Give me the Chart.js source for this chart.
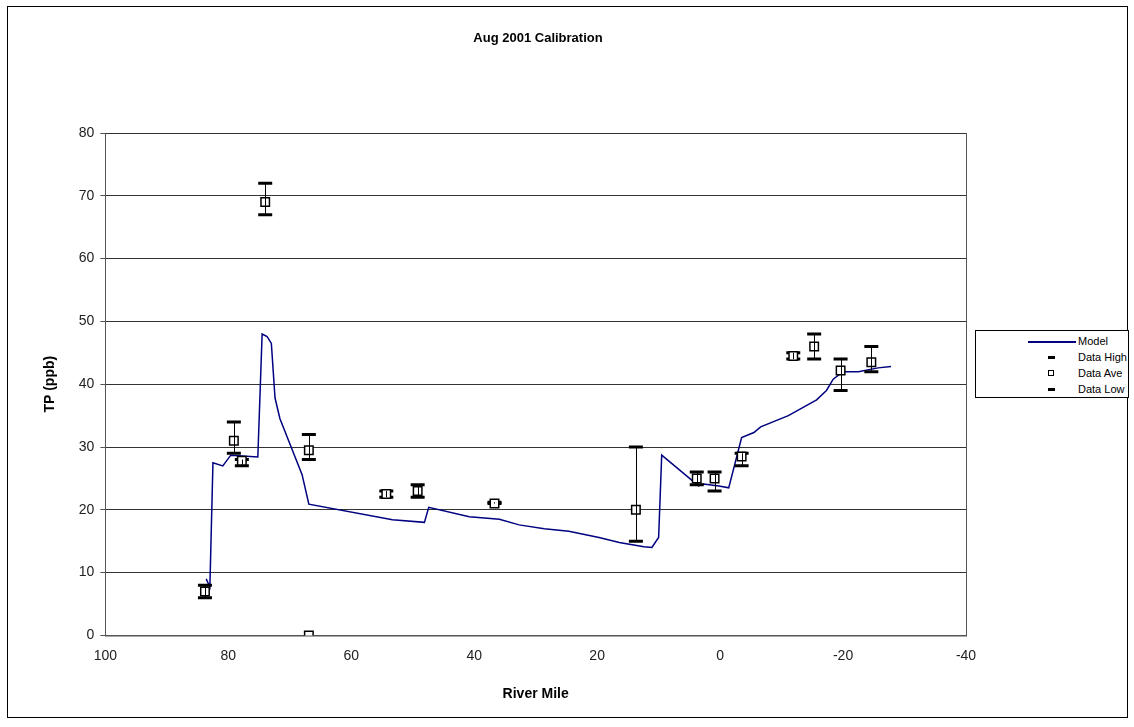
<!DOCTYPE html>
<html>
<head>
<meta charset="utf-8">
<script src="https://cdn.jsdelivr.net/npm/chart.js@4"></script>
<style>
  body { margin: 0; background: #fff; font-family: "Liberation Sans", Arial, sans-serif; }
  #wrap { position: absolute; left: 7px; top: 6px; width: 1121px; height: 712px; border: 1px solid #000; box-sizing: border-box; }
  #title { position: absolute; left: 338px; width: 400px; top: 30px; text-align: center; font-size: 13px; font-weight: bold; }
  #legend { position: absolute; left: 975px; top: 330px; width: 154px; height: 68px; border: 1px solid #000; background: #fff; box-sizing: border-box; font-size: 11px; }
  #legend div { position: absolute; left: 0; height: 16px; line-height: 16px; }
  #legend span.t { position: absolute; left: 102px; }
</style>
</head>
<body>
<div id="wrap"><canvas id="c" width="1119" height="710"></canvas></div>
<div id="title">Aug 2001 Calibration</div>
<div id="legend">
  <div style="top:2px;width:154px"><span style="position:absolute;left:52px;top:8px;width:48px;height:0;border-top:2px solid #000080"></span><span class="t">Model</span></div>
  <div style="top:18px;width:154px"><span style="position:absolute;left:72px;top:7px;width:7px;height:3px;background:#000"></span><span class="t">Data High</span></div>
  <div style="top:34px;width:154px"><span style="position:absolute;left:72px;top:5px;width:4px;height:4px;border:1.5px solid #000"></span><span class="t">Data Ave</span></div>
  <div style="top:50px;width:154px"><span style="position:absolute;left:72px;top:7px;width:7px;height:3px;background:#000"></span><span class="t">Data Low</span></div>
</div>
<script>
const modelMile = [83.6, 83.0, 82.5, 80.9, 79.6, 75.2, 74.5, 73.7, 73.0, 72.4, 71.6, 68.0, 66.9, 53.3, 48.1, 47.4, 40.8, 35.9, 32.7, 28.6, 24.6, 19.7, 16.4, 12.4, 11.1, 10.0, 9.5, 3.5, 2.7, 0.2, -1.4, -3.5, -5.5, -6.6, -11.1, -15.7, -17.3, -18.4, -20.0, -22.5, -25.7, -27.8];
const modelTP = [9, 7.7, 27.5, 27, 28.7, 28.4, 48, 47.6, 46.5, 37.8, 34.5, 25.6, 20.9, 18.4, 18, 20.4, 18.9, 18.5, 17.6, 17, 16.6, 15.6, 14.8, 14.1, 14, 15.6, 28.7, 23.8, 24.1, 23.8, 23.5, 31.5, 32.3, 33.2, 35, 37.5, 39, 40.8, 42, 42, 42.6, 42.8];

const dataMile = [83.8, 79.1, 77.8, 74.0, 66.9, 66.9, 54.3, 49.2, 36.7, 13.7, 3.8, 0.9, -3.5, -11.9, -15.3, -19.6, -24.6];
const dataAve  = [7, 31, 27.8, 69, 29.5, 0, 22.5, 23, 21, 20, 25, 25, 28.5, 44.5, 46, 42.2, 43.5];
const dataHigh = [8, 34, 28, 72, 32, null, 23, 24, 21.2, 30, 26, 26, 29, 45, 48, 44, 46];
const dataLow  = [6, 29, 27, 67, 28, null, 22, 22, 21, 15, 24, 23, 27, 44, 44, 39, 42];

const xy = (xs, ys) => xs.map((x, i) => ({ x: x, y: ys[i] })).filter(p => p.y !== null);

const errorBars = {
  id: 'errorBars',
  beforeDatasetsDraw(chart) {
    const { ctx, chartArea: a } = chart;
    ctx.save();
    ctx.strokeStyle = '#555';
    ctx.lineWidth = 1;
    ctx.beginPath();
    ctx.moveTo(a.right + 0.5, a.top);
    ctx.lineTo(a.right + 0.5, a.bottom);
    ctx.stroke();
    ctx.restore();
  },
  afterDatasetsDraw(chart) {
    const { ctx, scales: { x, y } } = chart;
    ctx.save();
    ctx.strokeStyle = '#000';
    ctx.lineWidth = 1;
    dataMile.forEach((m, i) => {
      if (dataHigh[i] === null) return;
      const px = Math.round(x.getPixelForValue(m)) + 0.5;
      ctx.beginPath();
      ctx.moveTo(px, y.getPixelForValue(dataHigh[i]));
      ctx.lineTo(px, y.getPixelForValue(dataLow[i]));
      ctx.stroke();
    });
    ctx.restore();
  }
};

const dash = { pointStyle: 'line', pointRadius: 7, pointBorderWidth: 3, borderColor: '#000', backgroundColor: '#000', showLine: false };

new Chart(document.getElementById('c'), {
  type: 'scatter',
  data: {
    datasets: [
      { label: 'Model', data: xy(modelMile, modelTP), showLine: true, borderColor: '#000080', borderWidth: 1.5, pointRadius: 0, order: 4 },
      Object.assign({ label: 'Data High', data: xy(dataMile, dataHigh), order: 2 }, dash),
      Object.assign({ label: 'Data Low', data: xy(dataMile, dataLow), order: 3 }, dash),
      { label: 'Data Ave', data: xy(dataMile, dataAve), pointStyle: 'rect', pointRadius: 6, pointBorderWidth: 1.5, borderColor: '#000', backgroundColor: '#fff', showLine: false, order: 1 }
    ]
  },
  plugins: [errorBars],
  options: {
    responsive: false,
    animation: false,
    layout: { padding: { left: 30, right: 161, top: 126, bottom: 10 } },
    plugins: {
      legend: { display: false },
      tooltip: { enabled: false },
      title: { display: false }
    },
    scales: {
      x: {
        type: 'linear', reverse: true, min: -40, max: 100,
        ticks: { stepSize: 20, color: '#222', font: { family: 'Liberation Sans', size: 14 }, padding: 6 },
        grid: { display: false, drawTicks: true, tickLength: 6, tickColor: '#555' },
        border: { color: '#555', width: 1.5 },
        title: { display: true, text: 'River Mile', color: '#000', font: { family: 'Liberation Sans', size: 14, weight: 'bold' }, padding: { top: 16 } }
      },
      y: {
        min: 0, max: 80,
        ticks: { stepSize: 10, color: '#222', font: { family: 'Liberation Sans', size: 14 }, padding: 6 },
        grid: { color: '#333', tickLength: 5, tickColor: '#555' },
        border: { color: '#555' },
        title: { display: true, text: 'TP (ppb)', color: '#000', font: { family: 'Liberation Sans', size: 14, weight: 'bold' }, padding: { bottom: 14 } }
      }
    }
  }
});
</script>
</body>
</html>
